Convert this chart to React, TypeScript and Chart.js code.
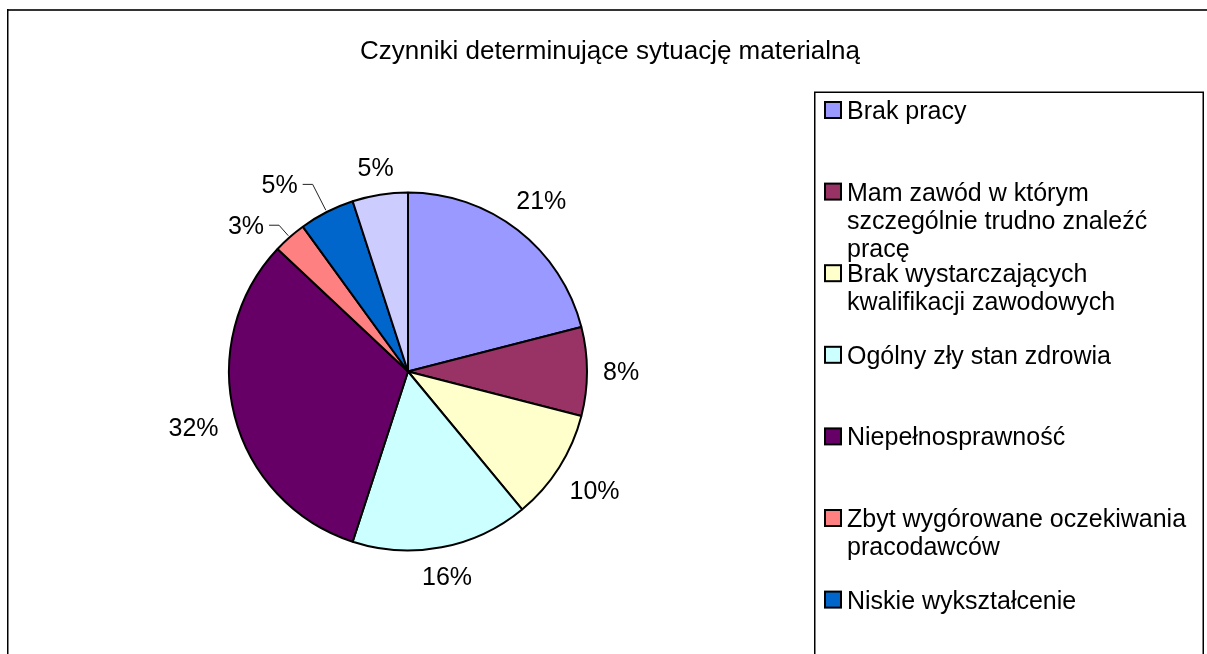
import React, { useEffect, useRef } from "react";
import { Chart, registerables } from "chart.js";

Chart.register(...registerables);

const chartTitle = "Czynniki determinujące sytuację materialną";
const categories = [
  "Brak pracy",
  "Mam zawód w którym szczególnie trudno znaleźć pracę",
  "Brak wystarczających kwalifikacji zawodowych",
  "Ogólny zły stan zdrowia",
  "Niepełnosprawność",
  "Zbyt wygórowane oczekiwania pracodawców",
  "Niskie wykształcenie",
  "Inne",
];
const shares = [21, 8, 10, 16, 32, 3, 5, 5];
const sliceColors = ["#9999FF", "#993366", "#FFFFCC", "#CCFFFF", "#660066", "#FF8080", "#0066CC", "#CCCCFF"];

const FONT = '"Liberation Sans", Arial, sans-serif';
const LABEL_SIZE = 25;
const CAP = 0.716;

function wrapText(ctx: CanvasRenderingContext2D, text: string, maxW: number): string[] {
  const words = text.split(" ");
  const lines: string[] = [];
  let cur = "";
  for (const w of words) {
    const t = cur ? cur + " " + w : w;
    if (cur && ctx.measureText(t).width > maxW) {
      lines.push(cur);
      cur = w;
    } else {
      cur = t;
    }
  }
  if (cur) lines.push(cur);
  return lines;
}

// leader-line lengths (px beyond the rim) for the small slices that use them
const leaderExt: Record<number, number> = { 5: 16, 6: 31 };

const decor = {
  id: "decor",
  beforeDraw(chart: any) {
    const ctx: CanvasRenderingContext2D = chart.ctx;
    ctx.save();
    ctx.fillStyle = "#fff";
    ctx.fillRect(0, 0, chart.width, chart.height);
    ctx.fillStyle = "#333";
    ctx.fillRect(7, 9, chart.width - 7, 2);
    ctx.fillStyle = "#000";
    ctx.fillRect(7, 9, 1.5, chart.height - 9);
    ctx.font = `26px ${FONT}`;
    ctx.fillStyle = "#000";
    ctx.textAlign = "center";
    ctx.textBaseline = "alphabetic";
    ctx.fillText(chartTitle, 610, 59);
    ctx.restore();
  },
  afterDatasetsDraw(chart: any) {
    const ctx: CanvasRenderingContext2D = chart.ctx;
    const meta = chart.getDatasetMeta(0);
    const data: number[] = chart.data.datasets[0].data;
    const total = data.reduce((a, b) => a + b, 0);
    ctx.save();
    ctx.font = `${LABEL_SIZE}px ${FONT}`;
    ctx.fillStyle = "#000";
    ctx.textBaseline = "alphabetic";
    const capH = LABEL_SIZE * CAP;
    meta.data.forEach((arc: any, i: number) => {
      const p = arc.getProps(["x", "y", "startAngle", "endAngle", "outerRadius"], true);
      const mid = (p.startAngle + p.endAngle) / 2;
      const dx = Math.cos(mid);
      const dy = Math.sin(mid);
      const txt = Math.round((data[i] / total) * 100) + "%";
      const w = ctx.measureText(txt).width;
      if (leaderExt[i] !== undefined) {
        const r0 = p.outerRadius + 2;
        const r1 = p.outerRadius + leaderExt[i];
        const ex = p.x + dx * r1;
        const ey = p.y + dy * r1;
        const sx = p.x + dx * r0;
        const sy = p.y + dy * r0;
        const hx = ex + (dx < 0 ? -10 : 10);
        ctx.strokeStyle = "#222";
        ctx.lineWidth = 1;
        ctx.beginPath();
        ctx.moveTo(sx, sy);
        ctx.lineTo(ex, ey);
        ctx.lineTo(hx, ey);
        ctx.stroke();
        ctx.textAlign = dx < 0 ? "right" : "left";
        ctx.fillText(txt, hx + (dx < 0 ? -5 : 5), ey + capH / 2);
      } else {
        const half = Math.abs(dx) * (w / 2) + Math.abs(dy) * (capH / 2);
        const d = p.outerRadius + 16 + half;
        ctx.textAlign = "center";
        ctx.fillText(txt, p.x + dx * d, p.y + dy * d + capH / 2);
      }
    });
    ctx.restore();
  },
  afterDraw(chart: any) {
    const ctx: CanvasRenderingContext2D = chart.ctx;
    const colors: string[] = chart.data.datasets[0].backgroundColor;
    const labels: string[] = chart.data.labels;
    ctx.save();
    ctx.strokeStyle = "#000";
    ctx.lineWidth = 1.5;
    ctx.strokeRect(814.75, 92.25, 388.5, 700);
    ctx.font = `${LABEL_SIZE}px ${FONT}`;
    ctx.textAlign = "left";
    ctx.textBaseline = "alphabetic";
    const capH = LABEL_SIZE * CAP;
    labels.forEach((lab, i) => {
      const cy = 110 + i * 81.6;
      ctx.fillStyle = colors[i];
      ctx.fillRect(825, cy - 8, 16, 16);
      ctx.lineWidth = 2;
      ctx.strokeStyle = "#000";
      ctx.strokeRect(825, cy - 8, 16, 16);
      ctx.fillStyle = "#000";
      const lines = wrapText(ctx, lab, 352);
      lines.forEach((ln, k) => {
        ctx.fillText(ln, 847, cy + capH / 2 + k * 28);
      });
    });
    ctx.restore();
  },
};

export default function App() {
  const ref = useRef<HTMLCanvasElement>(null);
  useEffect(() => {
    const chart = new Chart(ref.current as HTMLCanvasElement, {
      type: "pie",
      data: {
        labels: categories,
        datasets: [
          {
            data: shares,
            backgroundColor: sliceColors,
            borderColor: "#000",
            borderWidth: 2,
          },
        ],
      },
      options: {
        responsive: false,
        animation: false,
        devicePixelRatio: 1,
        layout: { padding: { left: 228, right: 619, top: 191.5, bottom: 102.5 } },
        plugins: {
          legend: { display: false },
          tooltip: { enabled: false },
          title: { display: false },
        },
      },
      plugins: [decor],
    } as any);
    return () => chart.destroy();
  }, []);
  return (
    <div style={{ position: "fixed", left: 0, top: 0, width: 1207, height: 654, background: "#fff", overflow: "hidden" }}>
      <canvas ref={ref} width={1207} height={654} style={{ display: "block", width: 1207, height: 654 }} />
    </div>
  );
}
